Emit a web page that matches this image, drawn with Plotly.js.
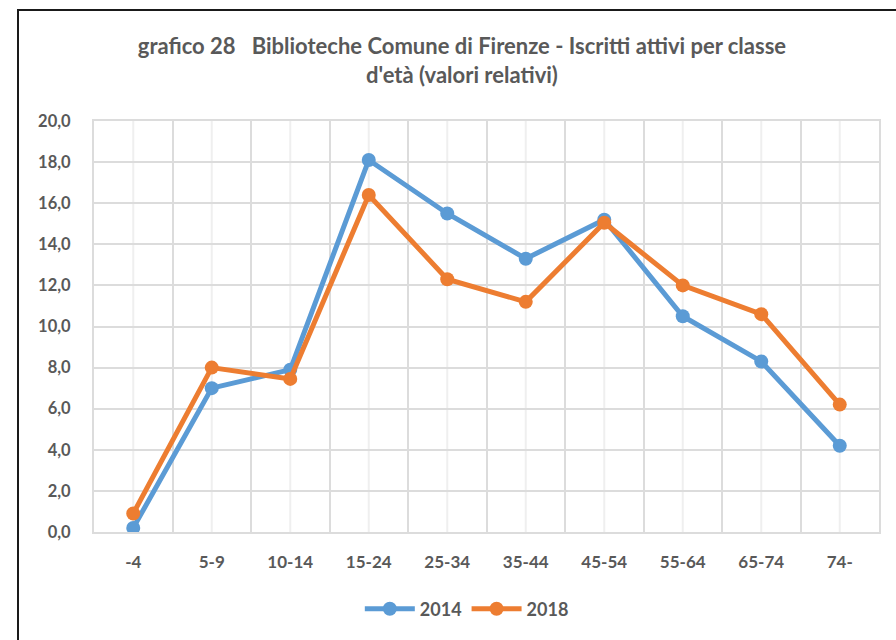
<!DOCTYPE html>
<html>
<head>
<meta charset="utf-8">
<script src="https://cdn.plot.ly/plotly-3.0.1.min.js"></script>
<style>
html,body{margin:0;padding:0;width:896px;height:640px;overflow:hidden;background:#fff;}
#chart{position:absolute;left:0;top:0;width:896px;height:640px;}
#frame{position:absolute;left:17px;top:9px;width:1000px;height:1000px;border:2px solid #1a1a1a;pointer-events:none;}
</style>
</head>
<body>
<div id="chart"></div>
<div id="frame"></div>
<script>
const categories = ['-4','5-9','10-14','15-24','25-34','35-44','45-54','55-64','65-74','74-'];
const values2014 = [0.2, 7.0, 7.9, 18.1, 15.5, 13.3, 15.2, 10.5, 8.3, 4.2];
const values2018 = [0.9, 8.0, 7.45, 16.4, 12.3, 11.2, 15.05, 12.0, 10.6, 6.2];
const seriesNames = ['2014', '2018'];

const FONT = 'Lato, "Open Sans", sans-serif';
const GREY = '#595959';

const traces = [
  {x: categories, y: values2014, name: seriesNames[0], type: 'scatter', mode: 'lines+markers',
   line: {color: '#5B9BD5', width: 5}, marker: {color: '#5B9BD5', size: 14}},
  {x: categories, y: values2018, name: seriesNames[1], type: 'scatter', mode: 'lines+markers',
   line: {color: '#ED7D31', width: 5}, marker: {color: '#ED7D31', size: 14}}
];

const centerLines = categories.map((c, i) => ({
  type: 'line', xref: 'x', yref: 'paper', x0: i, x1: i, y0: 0, y1: 1,
  layer: 'below', line: {color: '#efefef', width: 2}
}));

const layout = {
  width: 896, height: 640,
  margin: {l: 94, r: 17, t: 121, b: 108},
  paper_bgcolor: '#fff', plot_bgcolor: '#fff',
  separators: ',.',
  font: {family: FONT, color: GREY},
  title: {
    text: 'grafico 28\u00a0\u00a0\u00a0Biblioteche Comune di Firenze - Iscritti attivi per classe<br>d\'età (valori relativi)',
    font: {family: FONT, size: 22, color: GREY, weight: 'bold'},
    xref: 'container', x: 0.5156, xanchor: 'center',
    yref: 'container', y: 1 - 54/640, yanchor: 'middle'
  },
  xaxis: {
    type: 'category', tickson: 'boundaries', range: [-0.5, 9.5],
    categoryorder: 'array', categoryarray: categories,
    showgrid: true, gridcolor: '#dcdcdc', gridwidth: 2,
    showline: true, mirror: true, linecolor: '#dcdcdc', linewidth: 2,
    ticks: '', ticklabelstandoff: 14,
    tickfont: {family: FONT, size: 17, color: GREY, weight: 'bold'},
    zeroline: false, fixedrange: true
  },
  yaxis: {
    range: [0, 20], dtick: 2, tickformat: '.1f',
    showgrid: true, gridcolor: '#dcdcdc', gridwidth: 2,
    showline: true, mirror: true, linecolor: '#dcdcdc', linewidth: 2,
    ticks: 'outside', ticklen: 18, tickcolor: 'rgba(0,0,0,0)',
    tickfont: {family: FONT, size: 16.5, color: GREY, weight: 'bold'},
    zeroline: false, fixedrange: true
  },
  shapes: centerLines,
  showlegend: true,
  legend: {
    orientation: 'h', xref: 'container', x: 0.521, xanchor: 'center',
    yref: 'container', y: 1 - 609/640, yanchor: 'middle',
    font: {family: FONT, size: 18, color: GREY, weight: 'bold'},
    itemwidth: 50
  }
};

Plotly.newPlot('chart', traces, layout, {displayModeBar: false, staticPlot: true});
</script>
</body>
</html>
